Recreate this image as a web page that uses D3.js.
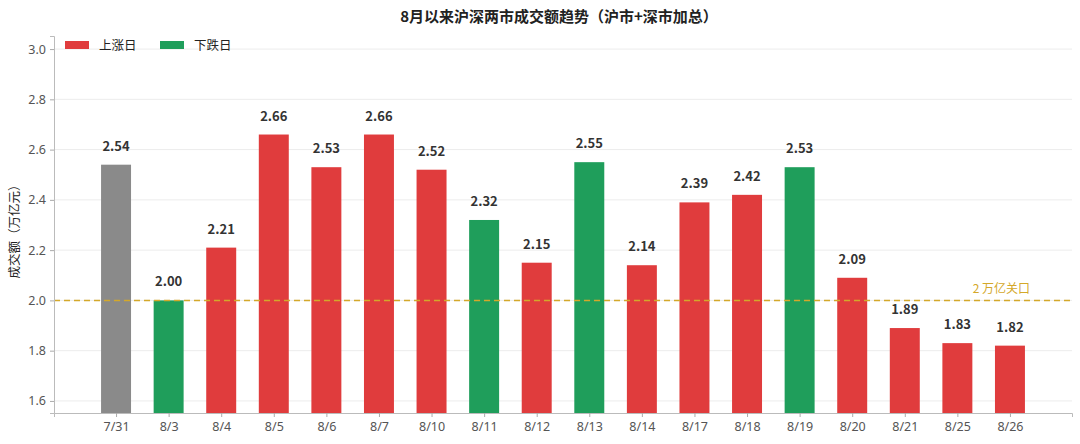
<!DOCTYPE html>
<html>
<head>
<meta charset="utf-8">
<script src="https://cdn.jsdelivr.net/npm/d3@7"></script>
<style>
  body { margin: 0; background: #fff; }
  svg { display: block; font-family: "Noto Sans CJK SC", "Noto Sans", sans-serif; }
</style>
</head>
<body>
<div id="chart"></div>
<script>
const dates = ["7/31", "8/3", "8/4", "8/5", "8/6", "8/7", "8/10", "8/11", "8/12",
  "8/13", "8/14", "8/17", "8/18", "8/19", "8/20", "8/21", "8/25", "8/26"];
const turnover = [2.54, 2.00, 2.21, 2.66, 2.53, 2.66, 2.52, 2.32, 2.15,
  2.55, 2.14, 2.39, 2.42, 2.53, 2.09, 1.89, 1.83, 1.82];
// 0 = 基准日, 1 = 上涨日, -1 = 下跌日
const direction = [0, -1, 1, 1, 1, 1, 1, -1, 1, -1, 1, 1, 1, -1, 1, 1, 1, 1];
const yTicks = [1.6, 1.8, 2.0, 2.2, 2.4, 2.6, 2.8, 3.0];
const threshold = 2.0;

const colors = { up: "#e03c3d", down: "#1f9e5b", base: "#8a8a8a", line: "#d4a82a" };

const width = 1080, height = 444;
const margin = { top: 36, right: 8, bottom: 31, left: 54 };

const svg = d3.select("#chart").append("svg")
  .attr("width", width).attr("height", height);

const x = d3.scalePoint()
  .domain(dates)
  .range([margin.left, width - margin.right])
  .padding(1.18);
const barW = x.step() * 0.57;

const y = d3.scaleLinear()
  .domain([1.552, 3.052])
  .range([height - margin.bottom, margin.top]);

// grid
svg.append("g")
  .selectAll("line")
  .data(yTicks)
  .join("line")
  .attr("x1", margin.left).attr("x2", width - margin.right)
  .attr("y1", d => y(d)).attr("y2", d => y(d))
  .attr("stroke", "#ececec").attr("stroke-width", 1);

// bars
const barColor = i => direction[i] === 0 ? colors.base : (direction[i] > 0 ? colors.up : colors.down);
svg.append("g")
  .selectAll("rect")
  .data(turnover)
  .join("rect")
  .attr("x", (d, i) => x(dates[i]) - barW / 2)
  .attr("width", barW)
  .attr("y", d => y(d))
  .attr("height", d => y.range()[0] - y(d))
  .attr("fill", (d, i) => barColor(i));

// value labels
svg.append("g")
  .selectAll("text")
  .data(turnover)
  .join("text")
  .attr("x", (d, i) => x(dates[i]))
  .attr("y", d => y(d) - 14)
  .attr("text-anchor", "middle")
  .attr("font-size", 13)
  .attr("font-weight", "bold")
  .attr("fill", "#333")
  .text(d => d.toFixed(2));

// threshold line
svg.append("line")
  .attr("x1", margin.left).attr("x2", width - margin.right)
  .attr("y1", y(threshold)).attr("y2", y(threshold))
  .attr("stroke", colors.line).attr("stroke-width", 1.5)
  .attr("stroke-dasharray", "6,4");
svg.append("text")
  .attr("x", 1030).attr("y", y(threshold) - 7)
  .attr("text-anchor", "end")
  .attr("font-size", 12)
  .attr("fill", colors.line)
  .text("2 万亿关口");

// axes
const yAxis = svg.append("g")
  .attr("transform", `translate(${margin.left},0)`)
  .call(d3.axisLeft(y).tickValues(yTicks).tickFormat(d3.format(".1f")).tickSize(4).tickPadding(4));
yAxis.select(".domain").attr("stroke", "#bbb");
yAxis.selectAll(".tick line").attr("stroke", "#aaa");
yAxis.selectAll(".tick text").attr("fill", "#555").attr("font-size", 12.5)
  .attr("font-family", "'Noto Sans', sans-serif");

const xAxis = svg.append("g")
  .attr("transform", `translate(0,${height - margin.bottom})`)
  .call(d3.axisBottom(x).tickSize(4).tickPadding(5));
xAxis.select(".domain").attr("stroke", "#bbb");
xAxis.selectAll(".tick line").attr("stroke", "#aaa");
xAxis.selectAll(".tick text").attr("fill", "#555").attr("font-size", 12.5)
  .attr("font-family", "'Noto Sans', sans-serif");

// title
svg.append("text")
  .attr("x", (margin.left + width - margin.right) / 2 - 4)
  .attr("y", 22)
  .attr("text-anchor", "middle")
  .attr("font-size", 15)
  .attr("font-weight", "bold")
  .attr("fill", "#222")
  .text("8月以来沪深两市成交额趋势（沪市+深市加总）");

// y label
svg.append("text")
  .attr("transform", `translate(19,${(margin.top + height - margin.bottom) / 2 + 4}) rotate(-90)`)
  .attr("text-anchor", "middle")
  .attr("font-size", 12.5)
  .attr("fill", "#222")
  .text("成交额（万亿元）");

// legend
const legendItems = [
  { label: "上涨日", color: colors.up },
  { label: "下跌日", color: colors.down }
];
const legend = svg.append("g").attr("transform", "translate(65,41)");
const li = legend.selectAll("g").data(legendItems).join("g")
  .attr("transform", (d, i) => `translate(${i * 95},0)`);
li.append("rect").attr("width", 24).attr("height", 8).attr("fill", d => d.color);
li.append("text").attr("x", 34).attr("y", 9).attr("font-size", 12.5).attr("fill", "#222")
  .text(d => d.label);
</script>
</body>
</html>
